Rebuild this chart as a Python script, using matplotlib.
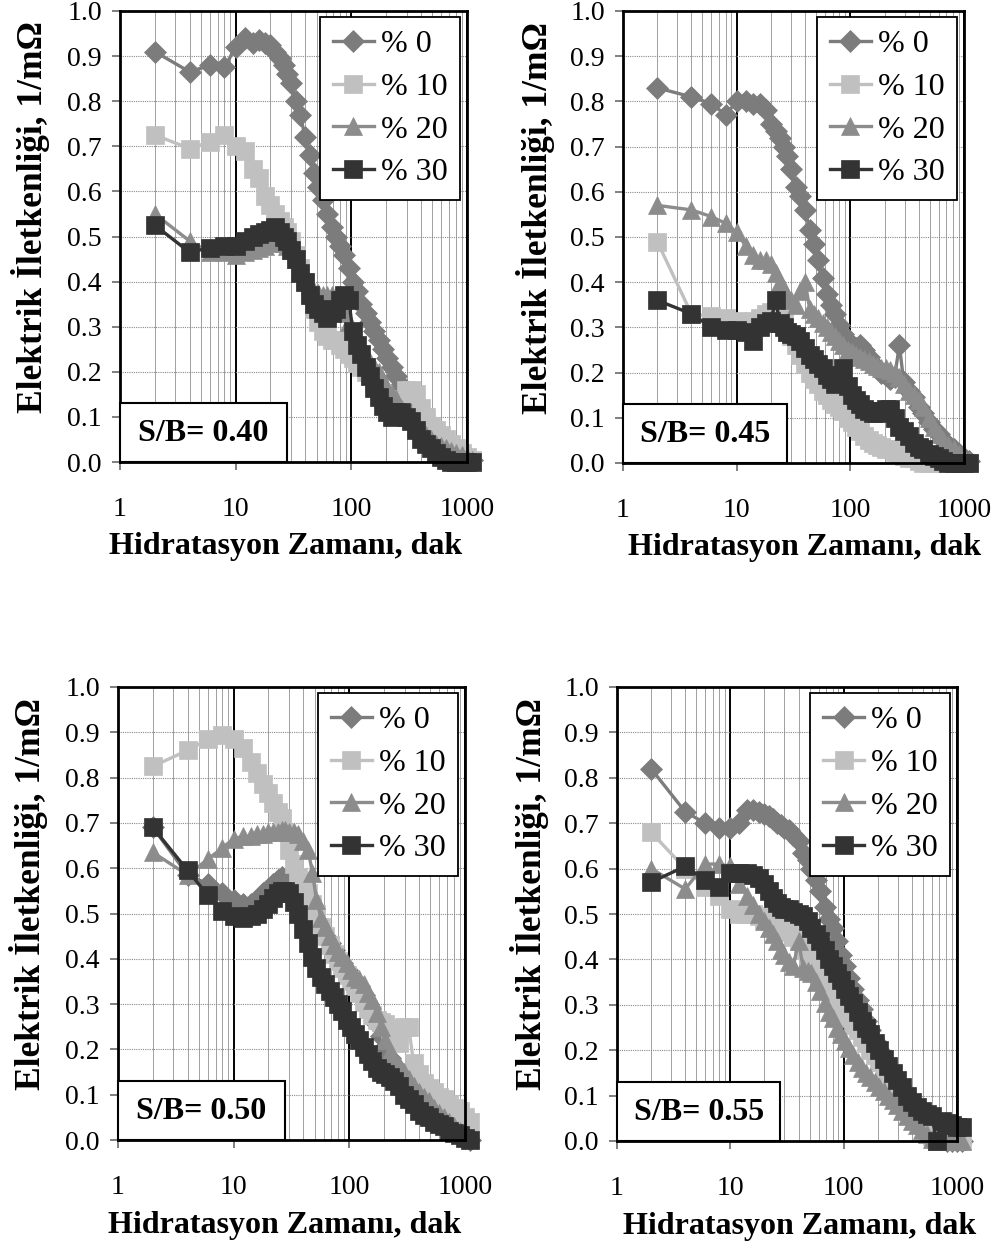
import matplotlib
matplotlib.use("Agg")
import matplotlib.pyplot as plt
from matplotlib.patches import Rectangle
from matplotlib.ticker import LogLocator, NullFormatter

plt.rcParams['font.family'] = ['Liberation Serif', 'DejaVu Serif']

# hydration time, minutes (shared by all series)
t = [2, 4, 6, 8, 10, 12, 14, 16, 18, 20, 22, 24, 26, 28, 30,
     33, 36, 40, 44, 48, 52, 57, 62, 68, 74,
     80, 87, 95, 103, 112, 122, 133, 145, 158, 172,
     188, 205, 225, 245, 270, 295, 325, 360, 400, 440,
     490, 540, 600, 660, 730, 810, 900, 1000, 1100]

series_labels = ['% 0', '% 10', '% 20', '% 30']
sb_labels = ['S/B= 0.40', 'S/B= 0.45', 'S/B= 0.50', 'S/B= 0.55']

# S/B = 0.40
p40_0 = [0.91, 0.865, 0.88, 0.875, 0.92, 0.94, 0.93, 0.935, 0.93, 0.925, 0.91, 0.895, 0.88, 0.86, 0.84,
         0.80, 0.77, 0.72, 0.68, 0.64, 0.61, 0.58, 0.55, 0.52, 0.50,
         0.48, 0.46, 0.43, 0.40, 0.38, 0.35, 0.33, 0.31, 0.29, 0.27,
         0.25, 0.23, 0.21, 0.19, 0.17, 0.155, 0.135, 0.12, 0.10, 0.085,
         0.07, 0.055, 0.045, 0.035, 0.03, 0.02, 0.015, 0.01, 0.005]
p40_10 = [0.725, 0.695, 0.71, 0.725, 0.70, 0.69, 0.65, 0.63, 0.59, 0.57, 0.55, 0.535, 0.52, 0.51, 0.49,
          0.46, 0.43, 0.40, 0.37, 0.34, 0.31, 0.29, 0.28, 0.27, 0.27,
          0.26, 0.25, 0.24, 0.23, 0.22, 0.21, 0.20, 0.19, 0.175, 0.16,
          0.15, 0.14, 0.13, 0.125, 0.13, 0.16, 0.16, 0.15, 0.12, 0.10,
          0.08, 0.07, 0.06, 0.05, 0.04, 0.03, 0.02, 0.01, 0.005]
p40_20 = [0.55, 0.49, 0.465, 0.465, 0.46, 0.465, 0.47, 0.475, 0.48, 0.485, 0.49, 0.49, 0.485, 0.48, 0.47,
          0.45, 0.43, 0.41, 0.39, 0.38, 0.375, 0.37, 0.37, 0.37, 0.36,
          0.35, 0.33, 0.31, 0.29, 0.27, 0.25, 0.24, 0.22, 0.21, 0.20,
          0.18, 0.165, 0.15, 0.14, 0.12, 0.11, 0.095, 0.08, 0.07, 0.06,
          0.05, 0.04, 0.035, 0.03, 0.025, 0.02, 0.015, 0.01, 0.005]
p40_30 = [0.525, 0.465, 0.475, 0.48, 0.48, 0.49, 0.50, 0.505, 0.51, 0.515, 0.52, 0.51, 0.50, 0.49, 0.47,
          0.45, 0.42, 0.40, 0.37, 0.35, 0.34, 0.33, 0.32, 0.33, 0.34,
          0.36, 0.37, 0.36, 0.29, 0.26, 0.24, 0.21, 0.19, 0.165, 0.145,
          0.125, 0.11, 0.10, 0.11, 0.11, 0.10, 0.09, 0.07, 0.05, 0.04,
          0.03, 0.02, 0.01, 0.005, 0.0, 0.0, 0.0, 0.0, 0.0]

# S/B = 0.45
p45_0 = [0.83, 0.81, 0.795, 0.77, 0.80, 0.80, 0.795, 0.795, 0.78, 0.75, 0.735, 0.72, 0.70, 0.68, 0.65,
         0.61, 0.59, 0.56, 0.515, 0.485, 0.45, 0.41, 0.375, 0.35, 0.33,
         0.305, 0.285, 0.27, 0.26, 0.255, 0.26, 0.25, 0.235, 0.22, 0.21,
         0.20, 0.195, 0.185, 0.19, 0.26, 0.18, 0.16, 0.145, 0.125, 0.11,
         0.09, 0.075, 0.065, 0.05, 0.04, 0.03, 0.02, 0.01, 0.005]
p45_10 = [0.49, 0.33, 0.325, 0.32, 0.315, 0.31, 0.315, 0.32, 0.33, 0.335, 0.33, 0.32, 0.31, 0.29, 0.28,
          0.26, 0.24, 0.22, 0.20, 0.185, 0.175, 0.16, 0.15, 0.14, 0.13,
          0.125, 0.115, 0.10, 0.09, 0.08, 0.07, 0.06, 0.05, 0.045, 0.04,
          0.035, 0.03, 0.03, 0.025, 0.02, 0.015, 0.01, 0.01, 0.005, 0.0,
          0.0, 0.0, 0.0, 0.0, 0.0, 0.0, 0.0, 0.0, 0.0]
p45_20 = [0.57, 0.56, 0.545, 0.53, 0.51, 0.48, 0.46, 0.45, 0.45, 0.44, 0.42, 0.40, 0.385, 0.37, 0.36,
          0.35, 0.38, 0.40, 0.34, 0.33, 0.32, 0.31, 0.30, 0.29, 0.28,
          0.27, 0.26, 0.25, 0.245, 0.24, 0.235, 0.23, 0.225, 0.22, 0.215,
          0.21, 0.21, 0.205, 0.20, 0.19, 0.175, 0.16, 0.15, 0.14, 0.125,
          0.10, 0.08, 0.065, 0.05, 0.04, 0.03, 0.02, 0.01, 0.005]
p45_30 = [0.36, 0.33, 0.30, 0.295, 0.295, 0.29, 0.27, 0.30, 0.31, 0.315, 0.36, 0.31, 0.30, 0.29, 0.285,
          0.28, 0.27, 0.255, 0.24, 0.23, 0.22, 0.21, 0.195, 0.185, 0.175,
          0.18, 0.21, 0.17, 0.15, 0.14, 0.13, 0.12, 0.115, 0.11, 0.11,
          0.115, 0.12, 0.12, 0.10, 0.08, 0.07, 0.06, 0.045, 0.035, 0.03,
          0.02, 0.015, 0.01, 0.005, 0.0, 0.0, 0.0, 0.0, 0.0]

# S/B = 0.50
p50_0 = [0.69, 0.585, 0.565, 0.545, 0.53, 0.52, 0.52, 0.53, 0.545, 0.555, 0.565, 0.575, 0.58, 0.575, 0.57,
         0.56, 0.55, 0.54, 0.52, 0.50, 0.48, 0.465, 0.45, 0.435, 0.42,
         0.405, 0.39, 0.375, 0.36, 0.35, 0.34, 0.32, 0.30, 0.28, 0.255,
         0.23, 0.205, 0.18, 0.165, 0.15, 0.135, 0.12, 0.105, 0.09, 0.08,
         0.07, 0.06, 0.05, 0.04, 0.03, 0.02, 0.01, 0.005, 0.0]
p50_10 = [0.825, 0.86, 0.885, 0.895, 0.885, 0.865, 0.835, 0.81, 0.785, 0.765, 0.745, 0.725, 0.71, 0.68, 0.64,
          0.61, 0.58, 0.56, 0.545, 0.52, 0.50, 0.47, 0.45, 0.43, 0.41,
          0.395, 0.38, 0.365, 0.35, 0.34, 0.325, 0.305, 0.29, 0.275, 0.265,
          0.26, 0.255, 0.245, 0.23, 0.215, 0.25, 0.25, 0.17, 0.145, 0.125,
          0.115, 0.105, 0.095, 0.09, 0.08, 0.07, 0.065, 0.05, 0.04]
p50_20 = [0.635, 0.585, 0.62, 0.645, 0.665, 0.67, 0.67, 0.675, 0.675, 0.68, 0.68, 0.68, 0.685, 0.685, 0.68,
          0.68, 0.675, 0.66, 0.64, 0.59, 0.53, 0.49, 0.47, 0.45, 0.43,
          0.415, 0.405, 0.39, 0.375, 0.36, 0.355, 0.345, 0.325, 0.31, 0.28,
          0.25, 0.22, 0.195, 0.18, 0.165, 0.15, 0.135, 0.12, 0.105, 0.095,
          0.085, 0.07, 0.06, 0.05, 0.04, 0.03, 0.02, 0.01, 0.005]
p50_30 = [0.69, 0.595, 0.54, 0.505, 0.495, 0.49, 0.495, 0.50, 0.51, 0.52, 0.535, 0.545, 0.55, 0.55, 0.545,
          0.525, 0.50, 0.465, 0.435, 0.405, 0.38, 0.36, 0.345, 0.33, 0.315,
          0.30, 0.285, 0.265, 0.25, 0.235, 0.22, 0.205, 0.19, 0.175, 0.16,
          0.15, 0.145, 0.14, 0.13, 0.12, 0.10, 0.09, 0.08, 0.065, 0.055,
          0.05, 0.04, 0.035, 0.03, 0.02, 0.015, 0.01, 0.005, 0.0]

# S/B = 0.55
p55_0 = [0.82, 0.725, 0.70, 0.69, 0.69, 0.70, 0.73, 0.73, 0.725, 0.72, 0.715, 0.71, 0.70, 0.695, 0.69,
         0.685, 0.675, 0.66, 0.635, 0.62, 0.60, 0.575, 0.55, 0.515, 0.49,
         0.47, 0.44, 0.41, 0.385, 0.36, 0.335, 0.31, 0.29, 0.265, 0.245,
         0.22, 0.20, 0.175, 0.155, 0.135, 0.115, 0.095, 0.08, 0.065, 0.055,
         0.045, 0.035, 0.025, 0.015, 0.005, 0.0, 0.0, 0.0, 0.0]
p55_10 = [0.68, 0.60, 0.56, 0.54, 0.51, 0.50, 0.50, 0.50, 0.495, 0.49, 0.485, 0.48, 0.475, 0.47, 0.465,
          0.46, 0.45, 0.44, 0.42, 0.41, 0.395, 0.38, 0.365, 0.35, 0.34,
          0.33, 0.31, 0.295, 0.28, 0.27, 0.255, 0.245, 0.23, 0.215, 0.20,
          0.19, 0.175, 0.16, 0.145, 0.13, 0.12, 0.105, 0.09, 0.07, 0.055,
          0.04, 0.025, 0.01, 0.0, 0.0, 0.0, 0.0, 0.0, 0.0]
p55_20 = [0.60, 0.555, 0.61, 0.61, 0.605, 0.565, 0.54, 0.52, 0.50, 0.485, 0.47, 0.455, 0.44, 0.42, 0.41,
          0.395, 0.385, 0.44, 0.38, 0.375, 0.37, 0.35, 0.33, 0.305, 0.285,
          0.27, 0.25, 0.235, 0.22, 0.205, 0.19, 0.175, 0.16, 0.15, 0.14,
          0.13, 0.12, 0.11, 0.10, 0.09, 0.08, 0.065, 0.055, 0.045, 0.035,
          0.025, 0.015, 0.005, 0.0, 0.0, 0.0, 0.0, 0.0, 0.0]
p55_30 = [0.57, 0.605, 0.575, 0.56, 0.59, 0.59, 0.59, 0.585, 0.58, 0.565, 0.55, 0.535, 0.525, 0.515, 0.51,
          0.51, 0.505, 0.50, 0.495, 0.485, 0.47, 0.455, 0.44, 0.42, 0.40,
          0.385, 0.37, 0.355, 0.335, 0.32, 0.305, 0.285, 0.265, 0.25, 0.235,
          0.215, 0.20, 0.18, 0.165, 0.15, 0.135, 0.12, 0.10, 0.085, 0.075,
          0.065, 0.06, 0.055, 0.0, 0.045, 0.04, 0.035, 0.03, 0.03]

panel_data = [
    [p40_0, p40_10, p40_20, p40_30],
    [p45_0, p45_10, p45_20, p45_30],
    [p50_0, p50_10, p50_20, p50_30],
    [p55_0, p55_10, p55_20, p55_30],
]

colors = ['#7c7c7c', '#c0c0c0', '#8c8c8c', '#333333']
markers = ['D', 's', '^', 's']
msizes = [11.5, 12.5, 13.5, 12.5]

W, H = 997, 1249
# axes boxes in pixels: left, right, top, bottom
boxes = [(120, 467, 11, 462), (623, 964, 11, 463), (118, 465, 687, 1140), (617, 957, 687, 1141)]
xlab_x = [0.478, 0.534, 0.48, 0.538]

fig = plt.figure(figsize=(W / 100, H / 100), dpi=100)

for i, (l, r, tp, b) in enumerate(boxes):
    ax = fig.add_axes([l / W, 1 - b / H, (r - l) / W, (b - tp) / H])
    ax.set_xscale('log')
    ax.set_xlim(1, 1000)
    ax.set_ylim(0, 1.0)
    ax.set_xticks([1, 10, 100, 1000])
    ax.set_xticklabels(['1', '10', '100', '1000'])
    ax.xaxis.set_minor_locator(LogLocator(base=10, subs=[2, 3, 4, 5, 6, 7, 8, 9]))
    ax.xaxis.set_minor_formatter(NullFormatter())
    yt = [0.0, 0.1, 0.2, 0.3, 0.4, 0.5, 0.6, 0.7, 0.8, 0.9, 1.0]
    ax.set_yticks(yt)
    ax.set_yticklabels(['%.1f' % v for v in yt])

    ax.set_axisbelow(True)
    ax.grid(True, which='major', axis='x', color='black', lw=1.4)
    ax.grid(True, which='minor', axis='x', color='#a0a0a0', lw=0.7)
    ax.grid(True, which='major', axis='y', color='#8a8a8a', lw=0.8, ls=(0, (1, 1)))

    for s in ax.spines.values():
        s.set_linewidth(2)
        s.set_color('black')

    ax.tick_params(which='major', direction='out', length=6, width=1.2, color='#6a6a6a', labelsize=20)
    ax.tick_params(axis='x', which='major', pad=19)
    ax.tick_params(axis='y', which='major', pad=7)
    ax.tick_params(which='minor', length=0)

    for k in range(4):
        ax.plot(t, panel_data[i][k], color=colors[k], marker=markers[k], ms=msizes[k],
                mfc=colors[k], mec=colors[k], mew=0.5, lw=2.4, label=series_labels[k],
                clip_on=False, zorder=2 + k * 0.1)

    leg = ax.legend(loc='upper right', bbox_to_anchor=(0.98, 0.987), borderaxespad=0,
                    fontsize=23, frameon=True, fancybox=False, edgecolor='black',
                    framealpha=1, handlelength=1.3, handletextpad=0.2,
                    labelspacing=0.42, borderpad=0.4)
    leg.get_frame().set_linewidth(1.3)
    leg.set_zorder(10)

    ax.add_patch(Rectangle((0, 0), 0.48, 0.13, transform=ax.transAxes, fc='white',
                           ec='black', lw=1.5, zorder=8, clip_on=False))
    ax.text(0.24, 0.063, sb_labels[i], transform=ax.transAxes, ha='center', va='center',
            fontsize=23, fontweight='bold', zorder=9)

    ax.set_xlabel('Hidratasyon Zamanı, dak', fontsize=23, fontweight='bold', va='center')
    ax.xaxis.set_label_coords(xlab_x[i], -0.188)
    ax.set_ylabel('Elektrik İletkenliği, 1/mΩ', fontsize=25.5, fontweight='bold', va='center')
    ax.yaxis.set_label_coords(-0.258, 0.543)

fig.savefig('out.png', dpi=100)
